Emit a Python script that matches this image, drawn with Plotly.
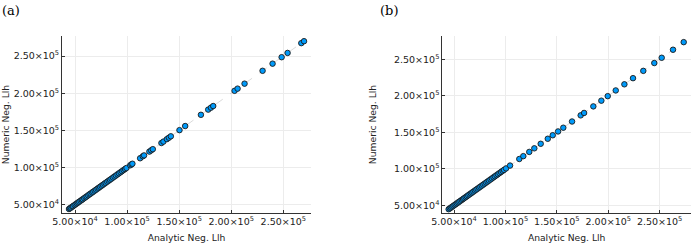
import plotly.graph_objects as go

# ---- data (values in thousands) ----
analytic_a = [44.2, 45.1, 46.0, 47.3, 48.1, 49.5, 50.6, 51.8, 52.9, 54.0, 55.3, 56.5, 57.4, 58.8,
              60.1, 61.2, 62.6, 63.9, 65.0, 66.4, 67.5, 68.9, 70.2, 71.6, 72.8, 74.1, 75.5, 76.8,
              78.2, 79.4, 80.9, 82.3, 83.6, 85.0, 86.5, 87.9, 89.3, 90.8, 92.2, 93.7, 95.1, 96.6,
              98.0, 99.4, 103.0, 104.2, 105.1, 112.5, 115.1, 116.3, 121.4, 123.1, 124.7, 133.0,
              134.9, 138.2, 140.1, 142.0, 150.3, 155.8, 170.9, 177.9, 180.5, 182.7, 203.2, 206.1,
              212.8, 230.1, 239.7, 248.4, 254.1, 267.3, 269.9]
numeric_a = [44.2, 45.1, 46.0, 47.3, 48.1, 49.5, 50.6, 51.8, 52.9, 54.0, 55.3, 56.5, 57.4, 58.8,
             60.1, 61.2, 62.6, 63.9, 65.0, 66.4, 67.5, 68.9, 70.2, 71.6, 72.8, 74.1, 75.5, 76.8,
             78.2, 79.4, 80.9, 82.3, 83.6, 85.0, 86.5, 87.9, 89.3, 90.8, 92.2, 93.7, 95.1, 96.6,
             98.0, 99.4, 103.0, 104.2, 105.1, 112.5, 115.1, 116.3, 121.4, 123.1, 124.7, 133.0,
             134.9, 138.2, 140.1, 142.0, 150.3, 155.8, 170.9, 177.9, 180.5, 182.7, 203.2, 206.1,
             212.8, 230.1, 239.7, 248.4, 254.1, 267.3, 269.9]

analytic_b = [44.8, 45.9, 47.0, 48.2, 49.3, 50.5, 51.6, 52.8, 54.0, 55.1, 56.3, 57.6, 58.8, 60.0,
              61.3, 62.5, 63.8, 65.1, 66.4, 67.6, 68.9, 70.3, 71.6, 72.9, 74.3, 75.6, 77.0, 78.4,
              79.8, 81.2, 82.6, 84.0, 85.5, 86.9, 88.4, 89.8, 91.3, 92.7, 94.2, 95.7, 97.2, 98.6,
              100.6, 104.5, 113.5, 117.4, 123.2, 128.1, 134.3, 141.2, 146.0, 151.2, 156.3, 164.8,
              173.2, 176.5, 185.5, 193.3, 199.5, 207.3, 215.7, 224.1, 234.1, 244.8, 252.0, 263.0,
              273.4]
numeric_b = [44.8, 45.9, 47.0, 48.2, 49.3, 50.5, 51.6, 52.8, 54.0, 55.1, 56.3, 57.6, 58.8, 60.0,
             61.3, 62.5, 63.8, 65.1, 66.4, 67.6, 68.9, 70.3, 71.6, 72.9, 74.3, 75.6, 77.0, 78.4,
             79.8, 81.2, 82.6, 84.0, 85.5, 86.9, 88.4, 89.8, 91.3, 92.7, 94.2, 95.7, 97.2, 98.6,
             100.6, 104.5, 113.5, 117.4, 123.2, 128.1, 134.3, 141.2, 146.0, 151.2, 156.3, 164.8,
             173.2, 176.5, 185.5, 193.3, 199.5, 207.3, 215.7, 224.1, 234.1, 244.8, 252.0, 263.0,
             273.4]
SCALE = 1000.0

tick_vals = [50000, 100000, 150000, 200000, 250000]
tick_text = ["5.00×10<sup>4</sup>", "1.00×10<sup>5</sup>", "1.50×10<sup>5</sup>",
             "2.00×10<sup>5</sup>", "2.50×10<sup>5</sup>"]
x_title = "Analytic Neg. Llh"
y_title = "Numeric Neg. Llh"
panel_labels = ["(a)", "(b)"]

W, H = 691, 243
FONT = "DejaVu Sans"
BLUE = "#009AFA"

fig = go.Figure()

panels = [
    (analytic_a, numeric_a, "x", "y", [62 / W, 311 / W], [37500, 276600], [38850, 276900]),
    (analytic_b, numeric_b, "x2", "y2", [442.3 / W, 1.0], [38600, 280500], [39600, 281800]),
]

for ax_x, ax_y, xa, ya, dom, xr, yr in panels:
    xs = [v * SCALE for v in ax_x]
    ys = [v * SCALE for v in ax_y]
    fig.add_trace(go.Scatter(
        x=[min(xs), max(xs)], y=[min(ys), max(ys)], mode="lines", xaxis=xa, yaxis=ya,
        line=dict(color="rgba(0,0,0,0.3)", width=0.5, dash="dash"), showlegend=False,
        hoverinfo="skip"))
    fig.add_trace(go.Scatter(
        x=xs, y=ys, mode="markers", xaxis=xa, yaxis=ya, showlegend=False,
        marker=dict(size=5.5, color=BLUE, line=dict(color="#1a1a1a", width=0.9))))

axis_common = dict(
    tickvals=tick_vals, ticktext=tick_text, showgrid=True, gridcolor="#ececec", gridwidth=0.7,
    zeroline=False, showline=True, linecolor="#333333", linewidth=1, ticks="inside",
    ticklen=3, tickcolor="#333333", tickfont=dict(family=FONT, size=9.5, color="#222222"),
    automargin=False, mirror=False,
)
title_font = dict(family=FONT, size=9.2, color="#222")

top, bottom = 36, 30
fig.update_layout(
    width=W, height=H, margin=dict(l=0, r=0, t=top, b=bottom),
    paper_bgcolor="white", plot_bgcolor="white",
    xaxis=dict(domain=panels[0][4], range=panels[0][5], anchor="y",
               title=dict(text=x_title, font=title_font), **axis_common),
    yaxis=dict(domain=[0, 1], range=panels[0][6], anchor="x",
               title=dict(text=y_title, font=title_font), **axis_common),
    xaxis2=dict(domain=panels[1][4], range=panels[1][5], anchor="y2",
                title=dict(text=x_title, font=title_font), **axis_common),
    yaxis2=dict(domain=[0, 1], range=panels[1][6], anchor="x2",
                title=dict(text=y_title, font=title_font), **axis_common),
)

plot_h = H - top - bottom
for label, xpx in zip(panel_labels, [0, 378]):
    fig.add_annotation(text=label, x=xpx / W, y=1 + (top - 1) / plot_h, xref="paper", yref="paper",
                       xanchor="left", yanchor="top", showarrow=False,
                       font=dict(family="DejaVu Serif", size=13, color="black"))

fig.write_html("out.html", config={"displayModeBar": False},
               post_script="document.body.style.margin='0';document.body.style.overflow='hidden';")
